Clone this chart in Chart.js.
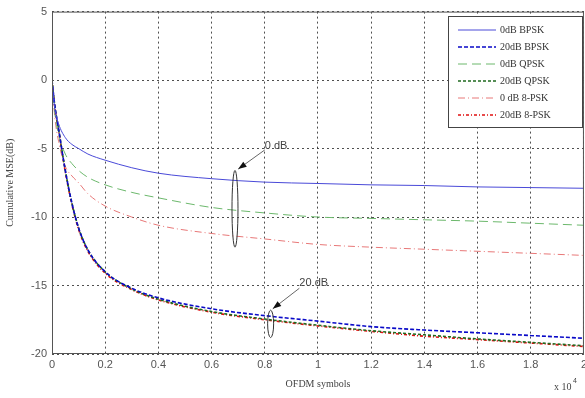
<!DOCTYPE html>
<html>
<head>
<meta charset="utf-8">
<script src="https://cdn.jsdelivr.net/npm/chart.js@4/dist/chart.umd.min.js"></script>
<style>
  html, body { margin: 0; padding: 0; background: #fff; overflow: hidden; }
  body { width: 585px; height: 398px; }
  #wrap { position: relative; width: 591px; height: 398px; }
</style>
</head>
<body>
<div id="wrap"><canvas id="chart"></canvas></div>
<script>
// OFDM symbols (x 10^4)
const symbols = [0, 0.01, 0.025, 0.05, 0.075, 0.1, 0.135, 0.2, 0.3, 0.4, 0.6, 0.8, 1.0, 1.2, 1.4, 1.6, 1.8, 2.0];

// Cumulative MSE (dB)
const bpsk0   = [0, -2.0, -3.2, -4.2, -4.7, -5.0, -5.4, -5.85, -6.4, -6.8, -7.2, -7.45, -7.55, -7.65, -7.7, -7.8, -7.85, -7.9];
const bpsk20  = [0, -1.8, -3.6, -6.6, -9.0, -10.8, -12.4, -14.0, -15.2, -15.9, -16.7, -17.2, -17.6, -18.0, -18.25, -18.45, -18.65, -18.85];
const qpsk0   = [0, -2.3, -4.0, -5.4, -6.1, -6.6, -7.1, -7.65, -8.2, -8.6, -9.3, -9.7, -10.0, -10.1, -10.2, -10.3, -10.45, -10.6];
const qpsk20  = [0, -1.8, -3.6, -6.6, -9.0, -10.8, -12.4, -14.0, -15.25, -16.0, -16.9, -17.45, -17.9, -18.3, -18.6, -18.9, -19.15, -19.4];
const psk8_0  = [0, -2.6, -4.5, -6.3, -7.0, -7.5, -8.3, -9.2, -10.0, -10.6, -11.2, -11.6, -12.0, -12.2, -12.35, -12.5, -12.65, -12.8];
const psk8_20 = [0, -1.9, -3.7, -6.7, -9.1, -10.9, -12.5, -14.1, -15.3, -16.05, -16.95, -17.5, -17.95, -18.35, -18.7, -18.95, -19.2, -19.45];

const seriesLabels = ['0dB BPSK', '20dB BPSK', '0dB QPSK', '20dB QPSK', '0 dB 8-PSK', '20dB 8-PSK'];

const xTicks = [0, 0.2, 0.4, 0.6, 0.8, 1, 1.2, 1.4, 1.6, 1.8, 2];
const yTicks = [-20, -15, -10, -5, 0, 5];

function pts(ys) {
    return symbols.map((x, i) => ({ x: x, y: ys[i] }));
}

const styles = [
    { color: '#4a4ad8', dash: [], width: 1 },
    { color: '#0a0ac8', dash: [4, 2], width: 1.6 },
    { color: '#6cb86c', dash: [9, 5], width: 1 },
    { color: '#1f6a1f', dash: [3, 2], width: 1.6 },
    { color: '#e87878', dash: [7, 3, 1, 3], width: 1 },
    { color: '#e01010', dash: [3, 2, 1, 2], width: 1.6 }
];
const values = [bpsk0, bpsk20, qpsk0, qpsk20, psk8_0, psk8_20];

const datasets = values.map((v, i) => ({
    label: seriesLabels[i],
    data: pts(v),
    borderColor: styles[i].color,
    borderDash: styles[i].dash,
    borderWidth: styles[i].width,
    pointRadius: 0,
    fill: false,
    cubicInterpolationMode: 'monotone'
}));

// Frame, legend box, annotations, x10^4 text
const extras = {
    id: 'extras',
    afterDatasetsDraw(chart) {
        const { ctx, chartArea: a, scales } = chart;
        const sx = scales.x, sy = scales.y;
        ctx.save();
        // frame
        ctx.strokeStyle = '#555';
        ctx.lineWidth = 1;
        ctx.setLineDash([]);
        ctx.strokeRect(a.left + 0.5, a.top + 0.5, a.right - a.left - 1, a.bottom - a.top - 1);

        // annotations
        function ellipse(xv, yv, ryv) {
            const cx = sx.getPixelForValue(xv);
            const cy = sy.getPixelForValue(yv);
            const ry = Math.abs(sy.getPixelForValue(yv + ryv) - cy);
            ctx.beginPath();
            ctx.ellipse(cx, cy, 3, ry, 0, 0, Math.PI * 2);
            ctx.strokeStyle = '#333';
            ctx.lineWidth = 1;
            ctx.stroke();
        }
        function arrow(x1, y1, x2, y2) {
            const p1 = [sx.getPixelForValue(x1), sy.getPixelForValue(y1)];
            const p2 = [sx.getPixelForValue(x2), sy.getPixelForValue(y2)];
            ctx.beginPath();
            ctx.moveTo(p1[0], p1[1]);
            ctx.lineTo(p2[0], p2[1]);
            ctx.strokeStyle = '#666';
            ctx.stroke();
            const ang = Math.atan2(p2[1] - p1[1], p2[0] - p1[0]);
            ctx.beginPath();
            ctx.moveTo(p2[0], p2[1]);
            ctx.lineTo(p2[0] - 9 * Math.cos(ang - 0.35), p2[1] - 9 * Math.sin(ang - 0.35));
            ctx.lineTo(p2[0] - 9 * Math.cos(ang + 0.35), p2[1] - 9 * Math.sin(ang + 0.35));
            ctx.closePath();
            ctx.fillStyle = '#111';
            ctx.fill();
        }
        ctx.font = '11px "Liberation Sans", Arial, sans-serif';
        ctx.textAlign = 'left';
        ctx.textBaseline = 'middle';

        ellipse(0.688, -9.4, 2.8);
        arrow(0.80, -5.1, 0.70, -6.5);
        ctx.fillStyle = '#444';
        ctx.fillText('0 dB', sx.getPixelForValue(0.80), sy.getPixelForValue(-4.8));

        ellipse(0.822, -17.8, 1.0);
        arrow(0.93, -15.2, 0.83, -16.7);
        ctx.fillStyle = '#444';
        ctx.fillText('20 dB', sx.getPixelForValue(0.93), sy.getPixelForValue(-14.85));

        // legend
        const lx = 448, ly = 16, lw = 134, lh = 111;
        ctx.fillStyle = '#fff';
        ctx.fillRect(lx, ly, lw, lh);
        ctx.strokeStyle = '#444';
        ctx.strokeRect(lx + 0.5, ly + 0.5, lw, lh);
        ctx.font = '10px "Liberation Serif", "Times New Roman", serif';
        chart.data.datasets.forEach((ds, i) => {
            const y = ly + 14 + i * 17;
            ctx.beginPath();
            ctx.setLineDash(ds.borderDash);
            ctx.strokeStyle = ds.borderColor;
            ctx.lineWidth = ds.borderWidth;
            ctx.moveTo(lx + 10, y);
            ctx.lineTo(lx + 48, y);
            ctx.stroke();
            ctx.setLineDash([]);
            ctx.fillStyle = '#333';
            ctx.fillText(ds.label, lx + 52, y);
        });

        // x 10^4
        ctx.fillStyle = '#444';
        ctx.font = '10px "Liberation Serif", "Times New Roman", serif';
        ctx.textAlign = 'left';
        ctx.fillText('x 10', 554, 387);
        ctx.font = '7px "Liberation Sans", Arial, sans-serif';
        ctx.fillText('4', 573, 381);
        ctx.restore();
    }
};

new Chart(document.getElementById('chart'), {
    type: 'line',
    data: { datasets: datasets },
    plugins: [extras],
    options: {
        responsive: true,
        maintainAspectRatio: false,
        animation: false,
        layout: { padding: { top: 11, right: 0, left: 0, bottom: 0 } },
        plugins: { legend: { display: false }, tooltip: { enabled: false } },
        scales: {
            x: {
                type: 'linear',
                min: 0, max: 2,
                afterBuildTicks: (s) => { s.ticks = xTicks.map(v => ({ value: v })); },
                afterFit: (s) => { s.height = 44; },
                ticks: {
                    color: '#555',
                    padding: 4,
                    font: { family: '"Liberation Sans", Arial, sans-serif', size: 11 },
                    maxRotation: 0,
                    callback: (v) => String(Math.round(v * 10) / 10)
                },
                grid: { color: '#222', lineWidth: 0.8, drawTicks: false },
                border: { display: false, dash: [2, 3] },
                title: {
                    display: true,
                    text: 'OFDM symbols',
                    color: '#444',
                    font: { family: '"Liberation Serif", "Times New Roman", serif', size: 10 },
                    padding: { top: 0, bottom: 8 }
                }
            },
            y: {
                type: 'linear',
                min: -20, max: 5,
                afterBuildTicks: (s) => { s.ticks = yTicks.map(v => ({ value: v })); },
                afterFit: (s) => { s.width = 52; },
                ticks: {
                    color: '#555',
                    padding: 5,
                    font: { family: '"Liberation Sans", Arial, sans-serif', size: 11 }
                },
                grid: { color: '#222', lineWidth: 0.8, drawTicks: false },
                border: { display: false, dash: [2, 3] },
                title: {
                    display: true,
                    text: 'Cumulative MSE(dB)',
                    color: '#444',
                    font: { family: '"Liberation Serif", "Times New Roman", serif', size: 10 },
                    padding: { top: 4, bottom: 0 }
                }
            }
        }
    }
});
</script>
</body>
</html>
